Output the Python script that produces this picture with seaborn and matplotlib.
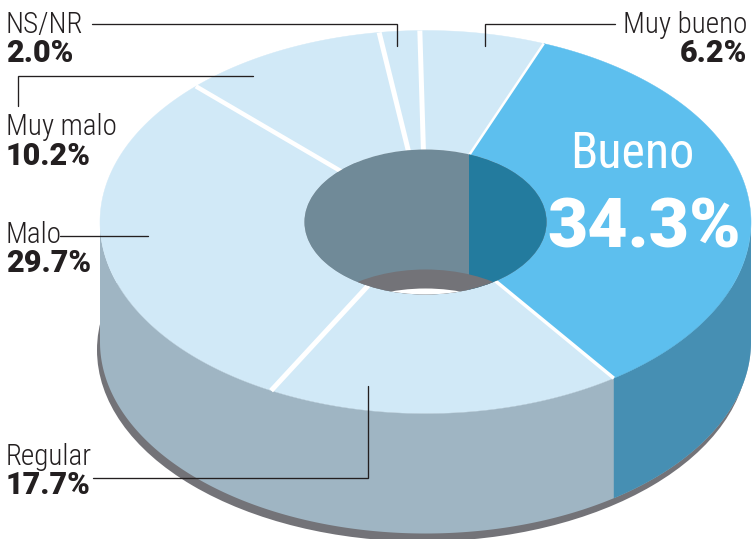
import numpy as np
import matplotlib
matplotlib.use("Agg")
import matplotlib.pyplot as plt
from matplotlib.patches import Ellipse
import seaborn as sns

# ---- data (clockwise from the start of the highlighted slice)
categories = ["Bueno", "Regular", "Malo", "Muy malo", "NS/NR", "Muy bueno"]
values = [34.3, 17.7, 29.7, 10.2, 2.0, 6.2]
value_labels = ["34.3%", "17.7%", "29.7%", "10.2%", "2.0%", "6.2%"]

# ---- geometry and style
W, H = 753, 539
CX, CY, RX, RY = 425.5, 222.0, 325.5, 191.5
HX, HY = 121.0, 72.5
DEPTH = 120
START = 68.7
LIGHT, BLUE = sns.color_palette(["#D1E9F7", "#5DBFEE"])
WALL_LIGHT, WALL_BLUE = "#9FB5C3", "#468FB3"
HOLE_LIGHT, HOLE_BLUE = "#708A98", "#237B9E"
SHADOW, INK = "#737378", "#231F20"
GAP_PX = [3.5, 5, 4.5, 5, 5, 2.5]   # white line at the end of each slice
LIGHT_FONT = ["Roboto Condensed", "Roboto", "DejaVu Sans"]
BOLD_FONT = ["Roboto", "DejaVu Sans"]

sns.set_theme(style="white")
fig = plt.figure(figsize=(W / 100, H / 100), dpi=100, facecolor="white")
ax = fig.add_axes([0, 0, 1, 1])
ax.set_xlim(0, W)
ax.set_ylim(H, 0)
sns.despine(ax=ax, left=True, bottom=True)
ax.set_xticks([])
ax.set_yticks([])


def pt(t, rx=RX, ry=RY, dy=0.0):
    r = np.radians(t)
    return CX + rx * np.cos(r), CY - ry * np.sin(r) + dy


spans = np.array(values) / sum(values) * 360
ends = START - np.cumsum(spans)
starts = np.r_[START, ends[:-1]]

# ground shadow
ax.add_patch(Ellipse((CX - 3, CY + DEPTH + 8), 2 * RX, 2 * RY, fc=SHADOW, ec="none", zorder=1))

# whole wall, then the highlighted slice's wall over it
t = np.linspace(180, 360, 400)
x, y = pt(t)
x2, y2 = pt(t[::-1], dy=DEPTH)
ax.fill(np.r_[x, x2], np.r_[y, y2], fc=WALL_LIGHT, ec="none", zorder=2)
t = np.linspace(starts[0], ends[0], 300)
t = t[np.sin(np.radians(t)) <= 0]
x, y = pt(t)
x2, y2 = pt(t[::-1], dy=DEPTH)
ax.fill(np.r_[x, x2], np.r_[y, y2], fc=WALL_BLUE, ec="none", zorder=2)

# top faces
for i, (a, b) in enumerate(zip(starts, ends)):
    t = np.linspace(a, b, 300)
    x, y = pt(t)
    xi, yi = pt(t[::-1], HX, HY)
    top = BLUE if i == 0 else LIGHT
    ax.fill(np.r_[x, xi], np.r_[y, yi], fc=top, ec=top, lw=0.3, zorder=3)

# white separators
for b, gap in zip(ends, GAP_PX):
    x0, y0 = pt(b, HX * 0.9, HY * 0.9)
    x1, y1 = pt(b)
    ax.plot([x0, x1], [y0, y1], color="white", lw=gap * 0.72, solid_capstyle="butt", zorder=4)

# hole
hole = Ellipse((CX, CY), 2 * HX, 2 * HY, fc=HOLE_LIGHT, ec="none", zorder=5)
ax.add_patch(hole)
split = pt(START, HX, HY)[0]
parts = [
    ax.axvspan(split, W, fc=HOLE_BLUE, ec="none", zorder=6),
    ax.add_patch(Ellipse((CX, CY + DEPTH), 2 * HX, 2 * HY, fc=SHADOW, ec="none", zorder=7)),
    ax.add_patch(Ellipse((CX, CY + DEPTH + 19), 2 * HX, 2 * HY, fc="white", ec="none", zorder=8)),
]
for p in parts:
    p.set_clip_path(hole)

# leader lines
leaders = [
    ([92, 397, 397], [24, 24, 46]),
    ([18, 18, 253], [106, 76, 76]),
    ([60, 148], [236, 236]),
    ([93, 368, 368], [478, 478, 386]),
    ([615, 485, 485], [24, 24, 46]),
]
for lx, ly in leaders:
    ax.plot(lx, ly, color=INK, lw=0.95, solid_joinstyle="miter", zorder=9)

# labels: name and value
positions = {
    "Regular": (6, "left", 465, 494),
    "Malo": (6, "left", 243, 272),
    "Muy malo": (6, "left", 135, 165),
    "NS/NR": (6, "left", 33, 62),
    "Muy bueno": (747, "right", 33, 62),
}
for name, val in zip(categories, value_labels):
    if name not in positions:
        continue
    x, ha, y1, y2 = positions[name]
    ax.text(x, y1, name, family=LIGHT_FONT, weight="light", fontsize=21, color=INK, ha=ha, va="baseline", zorder=10)
    ax.text(x, y2, val, family=BOLD_FONT, weight="black", fontsize=22, color=INK, ha=ha, va="baseline", zorder=10)

ax.text(632, 168, categories[0], family=LIGHT_FONT, fontsize=36, color="white", ha="center", va="baseline", zorder=10)
ax.text(644, 247, value_labels[0], family=BOLD_FONT, weight="black", fontsize=50, color="white", ha="center", va="baseline", zorder=10)

fig.savefig("out.png", dpi=100, facecolor="white")
